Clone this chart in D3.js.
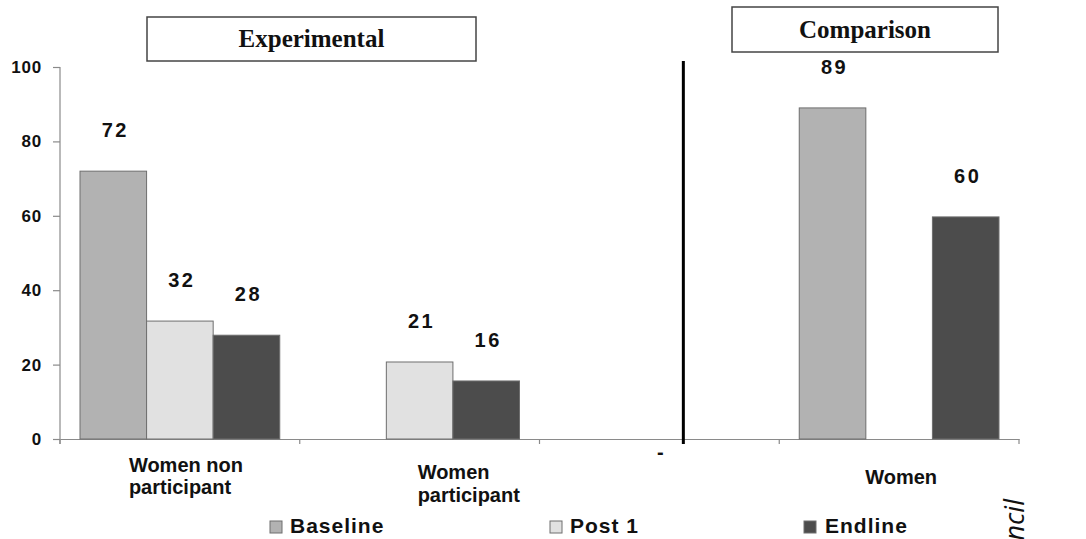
<!DOCTYPE html>
<html>
<head>
<meta charset="utf-8">
<script src="https://cdn.jsdelivr.net/npm/d3@7"></script>
<style>
  html, body { margin: 0; padding: 0; background: #fff; }
  svg { display: block; }
</style>
</head>
<body>
<svg id="chart" width="1086" height="539"></svg>
<script>
// ---------- data ----------
const categories = ["Women non participant", "Women participant", "-", "Women"];
const categoryLines = [["Women non", "participant"], ["Women", "participant"], ["-"], ["Women"]];
const seriesNames = ["Baseline", "Post 1", "Endline"];
const baseline = [72, null, null, 89];
const post1 = [31.7, 20.7, null, null];
const endline = [27.9, 15.6, null, 59.7];
const yTicks = [0, 20, 40, 60, 80, 100];
const panelTitles = ["Experimental", "Comparison"];
const sourceFragment = "ncil";

// ---------- layout / style ----------
const W = 1086, H = 539;
const colors = { "Baseline": "#b2b2b2", "Post 1": "#e1e1e1", "Endline": "#4c4c4c" };
const sansFont = "'Liberation Sans', Arial, Helvetica, sans-serif";
const serifFont = "'Liberation Serif', 'Times New Roman', serif";
const catLabelLayout = [
  { anchor: "start", dx: -51, ys: [472, 494] },
  { anchor: "start", dx: -2, ys: [479, 502] },
  { anchor: "middle", dx: 1, ys: [459] },
  { anchor: "middle", dx: 2, ys: [484] }
];

const svg = d3.select("#chart");
svg.append("rect").attr("width", W).attr("height", H).attr("fill", "#fff");

const x = d3.scaleBand().domain(categories).range([60, 1019]).paddingInner(0).paddingOuter(0);
const bw = x.bandwidth();
const xInner = d3.scaleBand().domain(seriesNames).range([20, bw - 20]).padding(0);
const y = d3.scaleLinear().domain([0, 100]).range([439, 67]);

const seriesValues = { "Baseline": baseline, "Post 1": post1, "Endline": endline };
const records = [];
categories.forEach((c, i) => {
  seriesNames.forEach(s => {
    const v = seriesValues[s][i];
    if (v != null) records.push({ cat: c, series: s, value: v });
  });
});

// ---------- y axis ----------
const yAxis = d3.axisLeft(y).tickValues(yTicks).tickSize(7).tickPadding(11).tickFormat(d3.format("d"));
const gy = svg.append("g").attr("transform", "translate(60,0)").call(yAxis);
gy.select(".domain").attr("stroke", "#8a8a8a").attr("stroke-width", 1.2)
  .attr("d", `M0,${y(100)}V${y(0) + 5}`);
gy.selectAll(".tick line").attr("stroke", "#8a8a8a").attr("stroke-width", 1.2);
gy.selectAll(".tick text")
  .attr("font-family", sansFont).attr("font-size", 17).attr("font-weight", "bold")
  .attr("fill", "#111").attr("letter-spacing", 0.8);

// ---------- x axis ----------
const xAxis = d3.axisBottom(x).tickSize(0).tickFormat("");
const gx = svg.append("g").attr("transform", `translate(0,${y(0)})`).call(xAxis);
gx.select(".domain").attr("stroke", "#8a8a8a").attr("stroke-width", 1.2);
gx.selectAll(".tick").remove();
const boundaries = categories.map(c => x(c)).concat([x(categories[categories.length - 1]) + bw]);
gx.selectAll("line.bound").data(boundaries).enter().append("line")
  .attr("class", "bound")
  .attr("x1", d => d).attr("x2", d => d).attr("y1", 0).attr("y2", 5)
  .attr("stroke", "#8a8a8a").attr("stroke-width", 1.2);

// ---------- bars ----------
svg.append("g").selectAll("rect.bar").data(records).enter().append("rect")
  .attr("class", "bar")
  .attr("x", d => x(d.cat) + xInner(d.series))
  .attr("y", d => y(d.value))
  .attr("width", xInner.bandwidth())
  .attr("height", d => y(0) - y(d.value))
  .attr("fill", d => colors[d.series])
  .attr("stroke", "#6e6e6e").attr("stroke-width", 1);

// ---------- value labels ----------
svg.append("g").selectAll("text.val").data(records).enter().append("text")
  .attr("class", "val")
  .attr("x", d => x(d.cat) + xInner(d.series) + xInner.bandwidth() / 2 + 2)
  .attr("y", d => y(d.value) - 34)
  .attr("text-anchor", "middle")
  .attr("font-family", sansFont).attr("font-size", 20).attr("font-weight", "bold")
  .attr("letter-spacing", 2.5).attr("fill", "#111")
  .text(d => d3.format(".0f")(d.value));

// ---------- category labels ----------
categories.forEach((c, i) => {
  const lay = catLabelLayout[i];
  const cx = x(c) + bw / 2 + lay.dx;
  const t = svg.append("text")
    .attr("font-family", sansFont).attr("font-size", 20).attr("font-weight", "bold")
    .attr("fill", "#111").attr("text-anchor", lay.anchor);
  categoryLines[i].forEach((line, j) => {
    t.append("tspan").attr("x", cx).attr("y", lay.ys[j]).text(line);
  });
});

// ---------- divider between panels ----------
const divX = x("-") + bw * 0.6;
svg.append("line")
  .attr("x1", divX).attr("x2", divX).attr("y1", 61).attr("y2", 444)
  .attr("stroke", "#000").attr("stroke-width", 3);

// ---------- panel title boxes ----------
const boxes = [
  { title: panelTitles[0], x0: 147, x1: 476, y0: 17, y1: 61 },
  { title: panelTitles[1], x0: 732, x1: 998, y0: 7, y1: 52 }
];
boxes.forEach(b => {
  svg.append("rect")
    .attr("x", b.x0).attr("y", b.y0).attr("width", b.x1 - b.x0).attr("height", b.y1 - b.y0)
    .attr("fill", "#fff").attr("stroke", "#444").attr("stroke-width", 1.5);
  svg.append("text")
    .attr("x", (b.x0 + b.x1) / 2).attr("y", (b.y0 + b.y1) / 2 + 8)
    .attr("text-anchor", "middle")
    .attr("font-family", serifFont).attr("font-size", 25).attr("font-weight", "bold")
    .attr("fill", "#111").text(b.title);
});

// ---------- legend ----------
const legendPos = [{ sx: 270, tx: 290 }, { sx: 550, tx: 570 }, { sx: 804, tx: 825 }];
seriesNames.forEach((s, i) => {
  const p = legendPos[i];
  svg.append("rect")
    .attr("x", p.sx).attr("y", 521).attr("width", 12).attr("height", 12)
    .attr("fill", colors[s]).attr("stroke", "#6e6e6e").attr("stroke-width", 1);
  svg.append("text")
    .attr("x", p.tx).attr("y", 533)
    .attr("font-family", sansFont).attr("font-size", 21).attr("font-weight", "bold")
    .attr("letter-spacing", 1).attr("fill", "#111").text(s);
});

// ---------- cut-off source text at right edge ----------
svg.append("text")
  .attr("transform", "translate(1024,499) rotate(-90)")
  .attr("text-anchor", "end")
  .attr("font-family", "'Open Sans', 'Noto Sans', sans-serif").attr("font-style", "italic")
  .attr("font-size", 27).attr("fill", "#111")
  .text(sourceFragment);
</script>
</body>
</html>
